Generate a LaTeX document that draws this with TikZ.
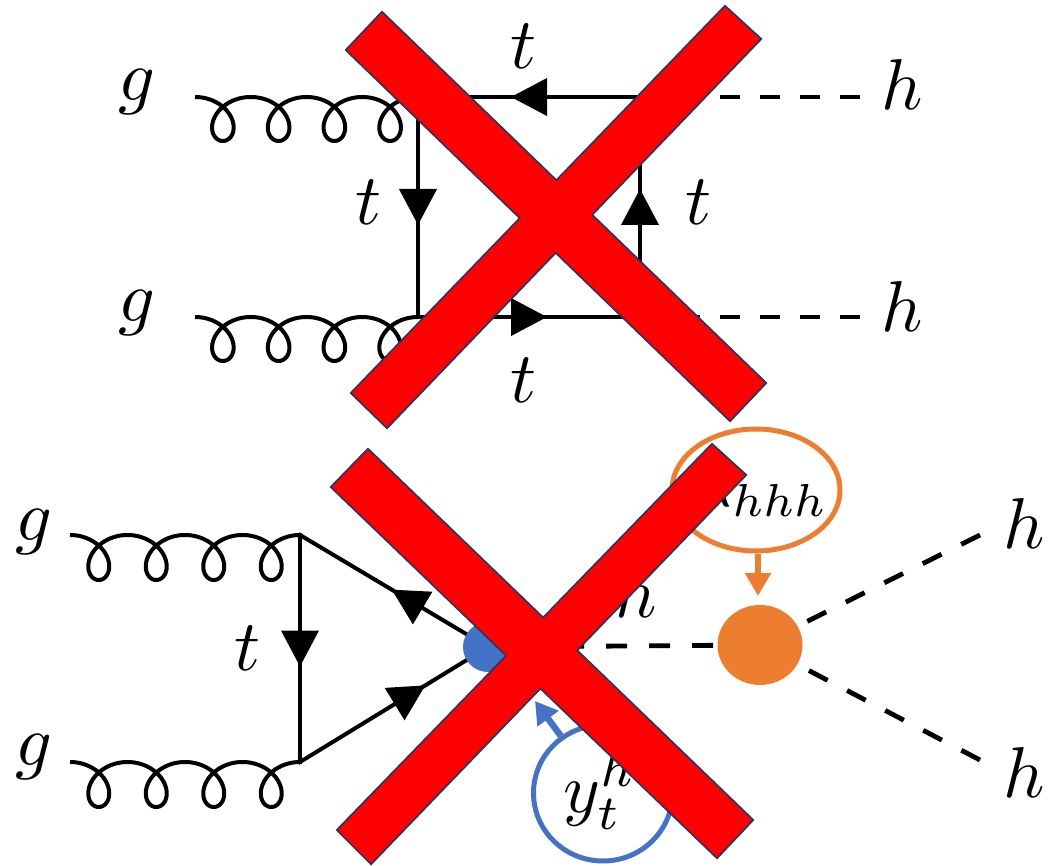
\documentclass[tikz,border=0pt]{standalone}
\usetikzlibrary{arrows.meta, decorations.markings, shapes.geometric}
\definecolor{xred}{HTML}{FF0000}
\definecolor{xnavy}{HTML}{1F3864}
\definecolor{hblue}{HTML}{4472C4}
\definecolor{horange}{HTML}{ED7D31}
% gluon: start x, line y, end x, loop depth, loop half-width factor
\newcommand\gluonplot[5]{%
  \draw[gluon] plot[domain=-pi:7*pi, samples=500, variable=\t]
   ({#1 + ((#3)-(#1))/8 + ((#3)-(#1))/(8*pi)*\t - #5*sin(\t r)},
    {#2 + (#4)/2 + (#4)/2*cos(\t r)});}
\begin{document}
\begin{tikzpicture}[x=1pt, y=-1pt,
  lbl/.style={scale=7.2, inner sep=0pt},
  gluon/.style={line width=4pt, line join=round, black},
  fermion/.style={line width=4pt, line cap=rect, postaction={decorate},
    decoration={markings, mark=at position #1 with {\arrow[xshift=18pt]{Triangle[length=36pt,width=37pt]}}}},
  fermion/.default=0.5,
  scalarA/.style={line width=4.8pt, dash pattern=on 20pt off 20pt},
  scalarB/.style={line width=4.8pt, dash pattern=on 21pt off 22pt},
  xbarline/.style={draw=xnavy, line width=3.5pt, line join=miter},
  xbarfill/.style={fill=xred}]
\fill[white] (0,0) rectangle (1048,866);
\useasboundingbox (0,0) rectangle (1048,866);

% ---------- top box diagram ----------
\coordinate (v1) at (418,97);
\coordinate (v2) at (640,97);
\coordinate (v3) at (418,317);
\coordinate (v4) at (640,317);
\coordinate (ha) at (860,97);
\coordinate (hb) at (860,317);
\gluonplot{195}{97}{418}{44}{23}
\gluonplot{195}{317}{418}{44}{23}
\draw[fermion] (v2) -- (v1);
\draw[fermion] (v1) -- (v3);
\draw[fermion] (v3) -- (v4);
\draw[fermion] (v4) -- (v2);
\draw[scalarA] (v2) -- (ha);
\draw[scalarA] (v4) -- (hb);
\node[lbl] (g1) at (137,92) {$g$};
\node[lbl] (g2) at (137,313) {$g$};
\node[lbl] (tt) at (523,46) {$t$};
\node[lbl] (tl) at (368,202) {$t$};
\node[lbl] (tr) at (698,202) {$t$};
\node[lbl] (tb) at (523,380) {$t$};
\node[lbl] (h1) at (902,85) {$h$};
\node[lbl] (h2) at (902,306) {$h$};

% ---------- bottom triangle diagram ----------
\coordinate (w1) at (300,535);
\coordinate (w2) at (300,762);
\coordinate (bvc) at (488,647);
\coordinate (occ) at (760,645);
\coordinate (he1) at (980,535);
\coordinate (he2) at (980,760);
\gluonplot{70}{535}{300}{45}{23}
\gluonplot{70}{762}{300}{45}{23}
\draw[fermion=0.43] (bvc) -- (w1);
\draw[fermion] (w1) -- (w2);
\draw[fermion=0.585] (w2) -- (bvc);
\draw[scalarB, dash phase=39pt] (occ) -- (bvc);
\draw[scalarB] (he1) -- (occ);
\draw[scalarB] (he2) -- (occ);
\node[circle, fill=hblue, minimum size=50pt, inner sep=0pt] (bv) at (bvc) {};
\node[ellipse, fill=horange, minimum width=85pt, minimum height=80pt, inner sep=0pt] (oc) at (occ) {};

\node[ellipse, draw=horange, line width=5pt, minimum width=168pt, minimum height=122pt, inner sep=0pt] (lell) at (756,490) {};
\node[ellipse, draw=hblue, line width=5pt, minimum width=139pt, minimum height=136pt, inner sep=0pt] (yell) at (603,793) {};
\coordinate (otip) at (758,596);
\coordinate (btip) at (535,701);
\draw[horange, line width=6.5pt, -{Triangle[length=23pt,width=25pt]}] (lell.south -| otip) -- (otip);
\draw[hblue, line width=6.5pt, -{Triangle[length=22pt,width=25pt]}] (yell) -- (btip);

\node[lbl] (g3) at (34,532) {$g$};
\node[lbl] (g4) at (34,757) {$g$};
\node[lbl] (t5) at (247,648) {$t$};
\node[lbl] (hm) at (636,592) {$h$};
\node[lbl] (h3) at (1024,523) {$h$};
\node[lbl] (h4) at (1024,772) {$h$};
\node[scale=6.6, inner sep=0pt] (lam) at (761,489) {$\lambda_{hhh}$};
\node[scale=7, inner sep=0pt] (yth) at (600,791) {$y_t^h$};

% ---------- red crosses ----------
\path[xbarline] (347,50) -- (382,13) -- (765,383) -- (730,420) -- cycle;
\path[xbarline] (725,7) -- (760,39) -- (387,427) -- (352,393) -- cycle;
\path[xbarline] (332,487) -- (368,450) -- (752,820) -- (717,857) -- cycle;
\path[xbarline] (712,445) -- (745,475) -- (371,863) -- (338,830) -- cycle;
\path[xbarfill] (347,50) -- (382,13) -- (765,383) -- (730,420) -- cycle;
\path[xbarfill] (725,7) -- (760,39) -- (387,427) -- (352,393) -- cycle;
\path[xbarfill] (332,487) -- (368,450) -- (752,820) -- (717,857) -- cycle;
\path[xbarfill] (712,445) -- (745,475) -- (371,863) -- (338,830) -- cycle;
\end{tikzpicture}
\end{document}
